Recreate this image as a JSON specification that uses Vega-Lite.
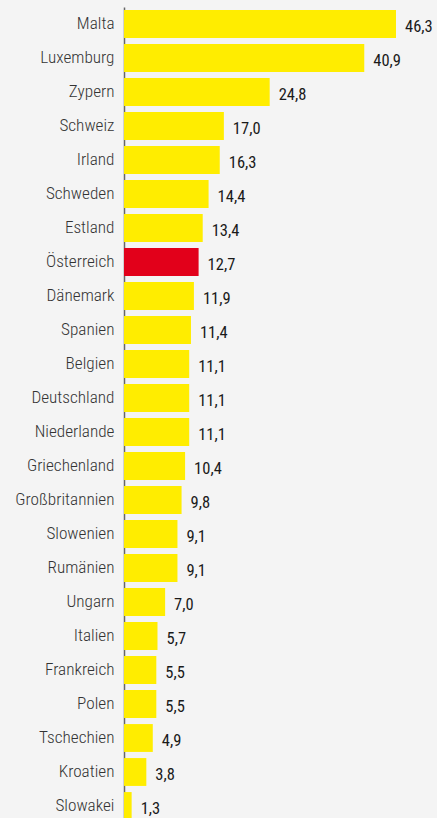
{
  "$schema": "https://vega.github.io/schema/vega-lite/v6.json",
  "width": 313,
  "height": 816,
  "autosize": {"type": "none"},
  "padding": {"left": 124, "top": 7, "right": 0, "bottom": 0},
  "background": "#f4f4f4",
  "config": {
    "view": {"stroke": null},
    "locale": {"number": {"decimal": ",", "thousands": ".", "grouping": [3], "currency": ["", " €"]}},
    "font": "Roboto Condensed, DejaVu Sans Condensed, Roboto"
  },
  "data": {
    "values": [
      {"land": "Malta", "wert": 46.3, "hl": false},
      {"land": "Luxemburg", "wert": 40.9, "hl": false},
      {"land": "Zypern", "wert": 24.8, "hl": false},
      {"land": "Schweiz", "wert": 17.0, "hl": false},
      {"land": "Irland", "wert": 16.3, "hl": false},
      {"land": "Schweden", "wert": 14.4, "hl": false},
      {"land": "Estland", "wert": 13.4, "hl": false},
      {"land": "Österreich", "wert": 12.7, "hl": true},
      {"land": "Dänemark", "wert": 11.9, "hl": false},
      {"land": "Spanien", "wert": 11.4, "hl": false},
      {"land": "Belgien", "wert": 11.1, "hl": false},
      {"land": "Deutschland", "wert": 11.1, "hl": false},
      {"land": "Niederlande", "wert": 11.1, "hl": false},
      {"land": "Griechenland", "wert": 10.4, "hl": false},
      {"land": "Großbritannien", "wert": 9.8, "hl": false},
      {"land": "Slowenien", "wert": 9.1, "hl": false},
      {"land": "Rumänien", "wert": 9.1, "hl": false},
      {"land": "Ungarn", "wert": 7.0, "hl": false},
      {"land": "Italien", "wert": 5.7, "hl": false},
      {"land": "Frankreich", "wert": 5.5, "hl": false},
      {"land": "Polen", "wert": 5.5, "hl": false},
      {"land": "Tschechien", "wert": 4.9, "hl": false},
      {"land": "Kroatien", "wert": 3.8, "hl": false},
      {"land": "Slowakei", "wert": 1.3, "hl": false}
    ]
  },
  "encoding": {
    "y": {
      "field": "land",
      "type": "nominal",
      "sort": null,
      "scale": {"paddingInner": 0.18, "paddingOuter": 0.09},
      "axis": {
        "title": null,
        "ticks": false,
        "labelPadding": 10,
        "labelFontSize": 17.2,
        "labelFontWeight": 300,
        "labelColor": "#333333",
        "domainColor": "#666666",
        "domainWidth": 1.5
      }
    },
    "x": {
      "field": "wert",
      "type": "quantitative",
      "scale": {"domain": [0, 53.28], "nice": false},
      "axis": null
    }
  },
  "layer": [
    {
      "mark": {"type": "bar"},
      "encoding": {
        "color": {
          "field": "hl",
          "type": "nominal",
          "scale": {"domain": [false, true], "range": ["#FFED00", "#E2001A"]},
          "legend": null
        }
      }
    },
    {
      "mark": {"type": "text", "align": "left", "baseline": "middle", "dx": 9, "dy": 3, "fontSize": 16.5, "fontWeight": 400, "color": "#1a1a1a"},
      "encoding": {
        "text": {"field": "wert", "type": "quantitative", "format": ".1f"}
      }
    }
  ]
}
